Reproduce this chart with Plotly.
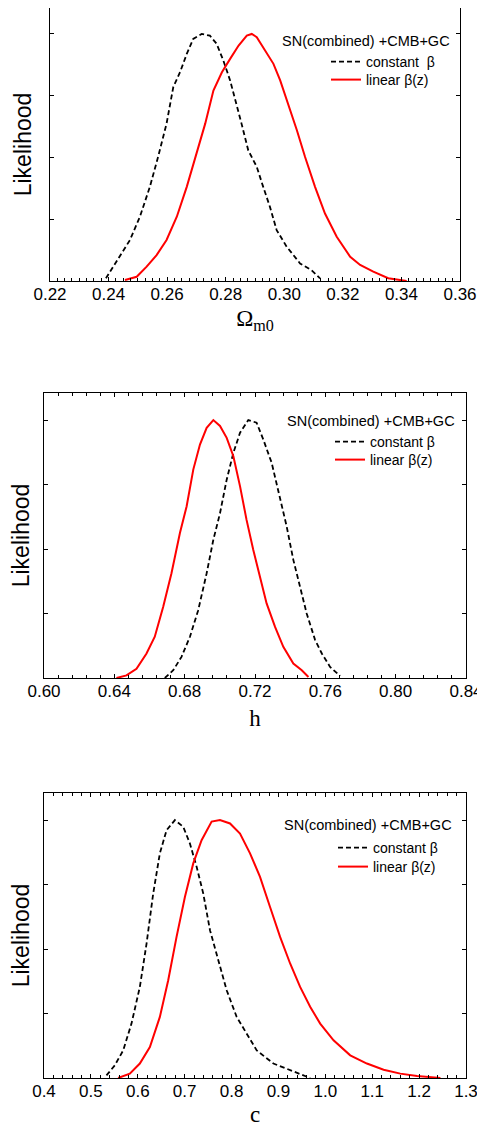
import plotly.graph_objects as go

# ---------- data ----------
# Panel 1: Omega_m0
om_const_x = [0.2391, 0.2405, 0.2439, 0.2473, 0.2507, 0.2541, 0.2569, 0.2598, 0.2621, 0.2644,
              0.2667, 0.2689, 0.2718, 0.2746, 0.2769, 0.2792, 0.2815, 0.2837, 0.2854, 0.2877,
              0.2906, 0.2928, 0.2951, 0.2974, 0.3008, 0.3054, 0.3093, 0.3122]
om_const_y = [0.011, 0.038, 0.098, 0.166, 0.260, 0.381, 0.502, 0.637, 0.785, 0.845,
              0.919, 0.980, 1.000, 0.993, 0.960, 0.892, 0.812, 0.717, 0.637, 0.529,
              0.462, 0.381, 0.300, 0.206, 0.139, 0.071, 0.044, 0.011]
om_lin_x = [0.2456, 0.2496, 0.2530, 0.2564, 0.2598, 0.2633, 0.2667, 0.2701, 0.2730, 0.2758,
            0.2787, 0.2815, 0.2844, 0.2872, 0.2889, 0.2906, 0.2935, 0.2963, 0.2986, 0.3014,
            0.3043, 0.3071, 0.3105, 0.3139, 0.3179, 0.3225, 0.3259, 0.3304, 0.3355, 0.3418]
om_lin_y = [0.004, 0.017, 0.058, 0.105, 0.166, 0.260, 0.381, 0.515, 0.637, 0.771,
            0.845, 0.899, 0.953, 0.993, 1.000, 0.987, 0.933, 0.879, 0.812, 0.717,
            0.610, 0.502, 0.381, 0.273, 0.179, 0.098, 0.065, 0.038, 0.011, 0.000]

# Panel 2: h
h_const_x = [0.6687, 0.6735, 0.6782, 0.6830, 0.6877, 0.6925, 0.6963, 0.7001, 0.7039, 0.7077,
             0.7115, 0.7162, 0.7209, 0.7247, 0.7295, 0.7342, 0.7380, 0.7418, 0.7456, 0.7494,
             0.7542, 0.7580, 0.7627, 0.7684]
h_const_y = [0.000, 0.030, 0.082, 0.160, 0.263, 0.406, 0.536, 0.639, 0.769, 0.873,
             0.951, 1.000, 0.990, 0.925, 0.834, 0.691, 0.588, 0.458, 0.354, 0.250,
             0.147, 0.095, 0.043, 0.008]
h_lin_x = [0.6412, 0.6469, 0.6526, 0.6583, 0.6630, 0.6678, 0.6725, 0.6773, 0.6811, 0.6849,
           0.6887, 0.6925, 0.6963, 0.7001, 0.7039, 0.7077, 0.7115, 0.7152, 0.7190, 0.7228,
           0.7266, 0.7314, 0.7361, 0.7418, 0.7466, 0.7504]
h_lin_y = [0.000, 0.010, 0.036, 0.095, 0.160, 0.276, 0.406, 0.562, 0.665, 0.808,
           0.905, 0.970, 1.000, 0.977, 0.931, 0.860, 0.743, 0.613, 0.497, 0.393,
           0.289, 0.198, 0.121, 0.056, 0.030, 0.004]

# Panel 3: c
c_const_x = [0.5332, 0.5510, 0.5688, 0.5866, 0.6044, 0.6187, 0.6329, 0.6471, 0.6614, 0.6792,
             0.6970, 0.7112, 0.7255, 0.7397, 0.7540, 0.7718, 0.7896, 0.8109, 0.8323, 0.8537,
             0.8893, 0.9249, 0.9676]
c_const_y = [0.010, 0.049, 0.107, 0.211, 0.353, 0.521, 0.715, 0.871, 0.961, 1.000,
             0.974, 0.909, 0.819, 0.715, 0.573, 0.457, 0.340, 0.237, 0.172, 0.107,
             0.056, 0.030, 0.000]
c_lin_x = [0.5581, 0.5830, 0.6044, 0.6258, 0.6471, 0.6649, 0.6827, 0.7005, 0.7183, 0.7361,
           0.7575, 0.7753, 0.7967, 0.8180, 0.8394, 0.8607, 0.8821, 0.9035, 0.9249, 0.9462,
           0.9676, 0.9890, 1.0175, 1.0531, 1.0887, 1.1243, 1.1599, 1.1955, 1.2454]
c_lin_y = [0.000, 0.017, 0.056, 0.120, 0.237, 0.379, 0.547, 0.702, 0.832, 0.922,
           0.994, 1.000, 0.987, 0.948, 0.871, 0.780, 0.663, 0.547, 0.444, 0.353,
           0.276, 0.211, 0.146, 0.088, 0.056, 0.032, 0.017, 0.008, 0.000]

series_names_top = ["constant  β", "linear β(z)"]
series_names = ["constant β", "linear β(z)"]
legend_title = "SN(combined) +CMB+GC"
x_titles = ["Ω<sub>m0</sub>", "h", "c"]
y_title = "Likelihood"

x_ranges = [[0.22, 0.36], [0.60, 0.84], [0.4, 1.3]]
x_dticks = [0.02, 0.04, 0.1]
x_minor = [0.0025, 0.008, 0.02]
x_formats = [".2f", ".2f", ".1f"]
y_ticks = [0.25, 0.5, 0.75, 1.0]

# ---------- layout geometry (pixels, in figure coordinates) ----------
W, H = 477, 1119
panels = [
    dict(x0=42, x1=452, y0=0, y1=273),
    dict(x0=36, x1=458, y0=385, y1=670),
    dict(x0=36, x1=458, y0=785, y1=1070),
]
x_standoff = [7, 10, 13]
y_standoff = [10, 7, 7]
# legend item positions: (left x, top y) for each entry
legend_pos = [[(318, 38), (318, 56)], [(322, 418), (322, 436)], [(325, 824), (325, 843)]]
title_pos = [(444, 33), (449, 413), (446, 817)]

fig = go.Figure()
data = [
    (om_const_x, om_const_y, om_lin_x, om_lin_y, series_names_top),
    (h_const_x, h_const_y, h_lin_x, h_lin_y, series_names),
    (c_const_x, c_const_y, c_lin_x, c_lin_y, series_names),
]

def legend_id(k):
    return "legend" if k == 0 else "legend" + str(k + 1)

for i, (cx, cy, lx, ly, names) in enumerate(data):
    ax = "" if i == 0 else str(i + 1)
    fig.add_trace(go.Scatter(x=cx, y=cy, mode="lines", name=names[0],
                             line=dict(color="black", width=1.8, dash="5px,3px"),
                             xaxis="x" + ax, yaxis="y" + ax, legend=legend_id(2 * i)))
    fig.add_trace(go.Scatter(x=lx, y=ly, mode="lines", name=names[1],
                             line=dict(color="#ff0000", width=2),
                             xaxis="x" + ax, yaxis="y" + ax, legend=legend_id(2 * i + 1)))

axis_font = dict(family="Liberation Sans, Arial, sans-serif", size=17, color="black")
layout = dict(width=W, height=H, margin=dict(l=0, r=0, t=0, b=0),
              paper_bgcolor="white", plot_bgcolor="white", showlegend=True)

annotations = []
for i, p in enumerate(panels):
    ax = "" if i == 0 else str(i + 1)
    layout["xaxis" + ax] = dict(
        domain=[p["x0"] / W, p["x1"] / W], anchor="y" + ax,
        range=x_ranges[i], dtick=x_dticks[i], tick0=x_ranges[i][0], tickformat=x_formats[i],
        ticks="inside", ticklen=4, tickwidth=1, tickcolor="black", ticklabelstandoff=-3,
        minor=dict(dtick=x_minor[i], tick0=x_ranges[i][0], ticks="inside", ticklen=3, tickcolor="black"),
        showline=True, linecolor="black", linewidth=1.3, mirror=("allticks" if i > 0 else True),
        showgrid=False, zeroline=False, tickfont=axis_font,
        title=dict(text=x_titles[i], font=dict(family="Liberation Serif, Times New Roman, serif", size=23, color="black"),
                   standoff=x_standoff[i]),
        automargin=False,
    )
    layout["yaxis" + ax] = dict(
        domain=[1 - p["y1"] / H, 1 - p["y0"] / H], anchor="x" + ax,
        range=[0, 1.105], tickvals=y_ticks, showticklabels=False,
        ticks="inside", ticklen=4, tickcolor="black",
        showline=True, linecolor="black", linewidth=1.3, mirror="ticks",
        showgrid=False, zeroline=False,
        title=dict(text=y_title, font=dict(family="Liberation Sans, Arial, sans-serif", size=23, color="black"),
                   standoff=y_standoff[i]),
        automargin=False,
    )
    for j in range(2):
        lx, ly = legend_pos[i][j]
        layout[legend_id(2 * i + j)] = dict(
            x=lx / W, y=1 - ly / H, xanchor="left", yanchor="top",
            bgcolor="rgba(0,0,0,0)", borderwidth=0, itemwidth=30,
            font=dict(family="Liberation Sans, Arial, sans-serif", size=14, color="black"),
        )
    tx, ty = title_pos[i]
    annotations.append(dict(
        text=legend_title, xref="paper", yref="paper", x=tx / W, y=1 - ty / H,
        xanchor="right", yanchor="middle", showarrow=False,
        font=dict(family="Liberation Sans, Arial, sans-serif", size=14.5, color="black"),
    ))

layout["annotations"] = annotations
fig.update_layout(**layout)
fig.write_html("out.html")
